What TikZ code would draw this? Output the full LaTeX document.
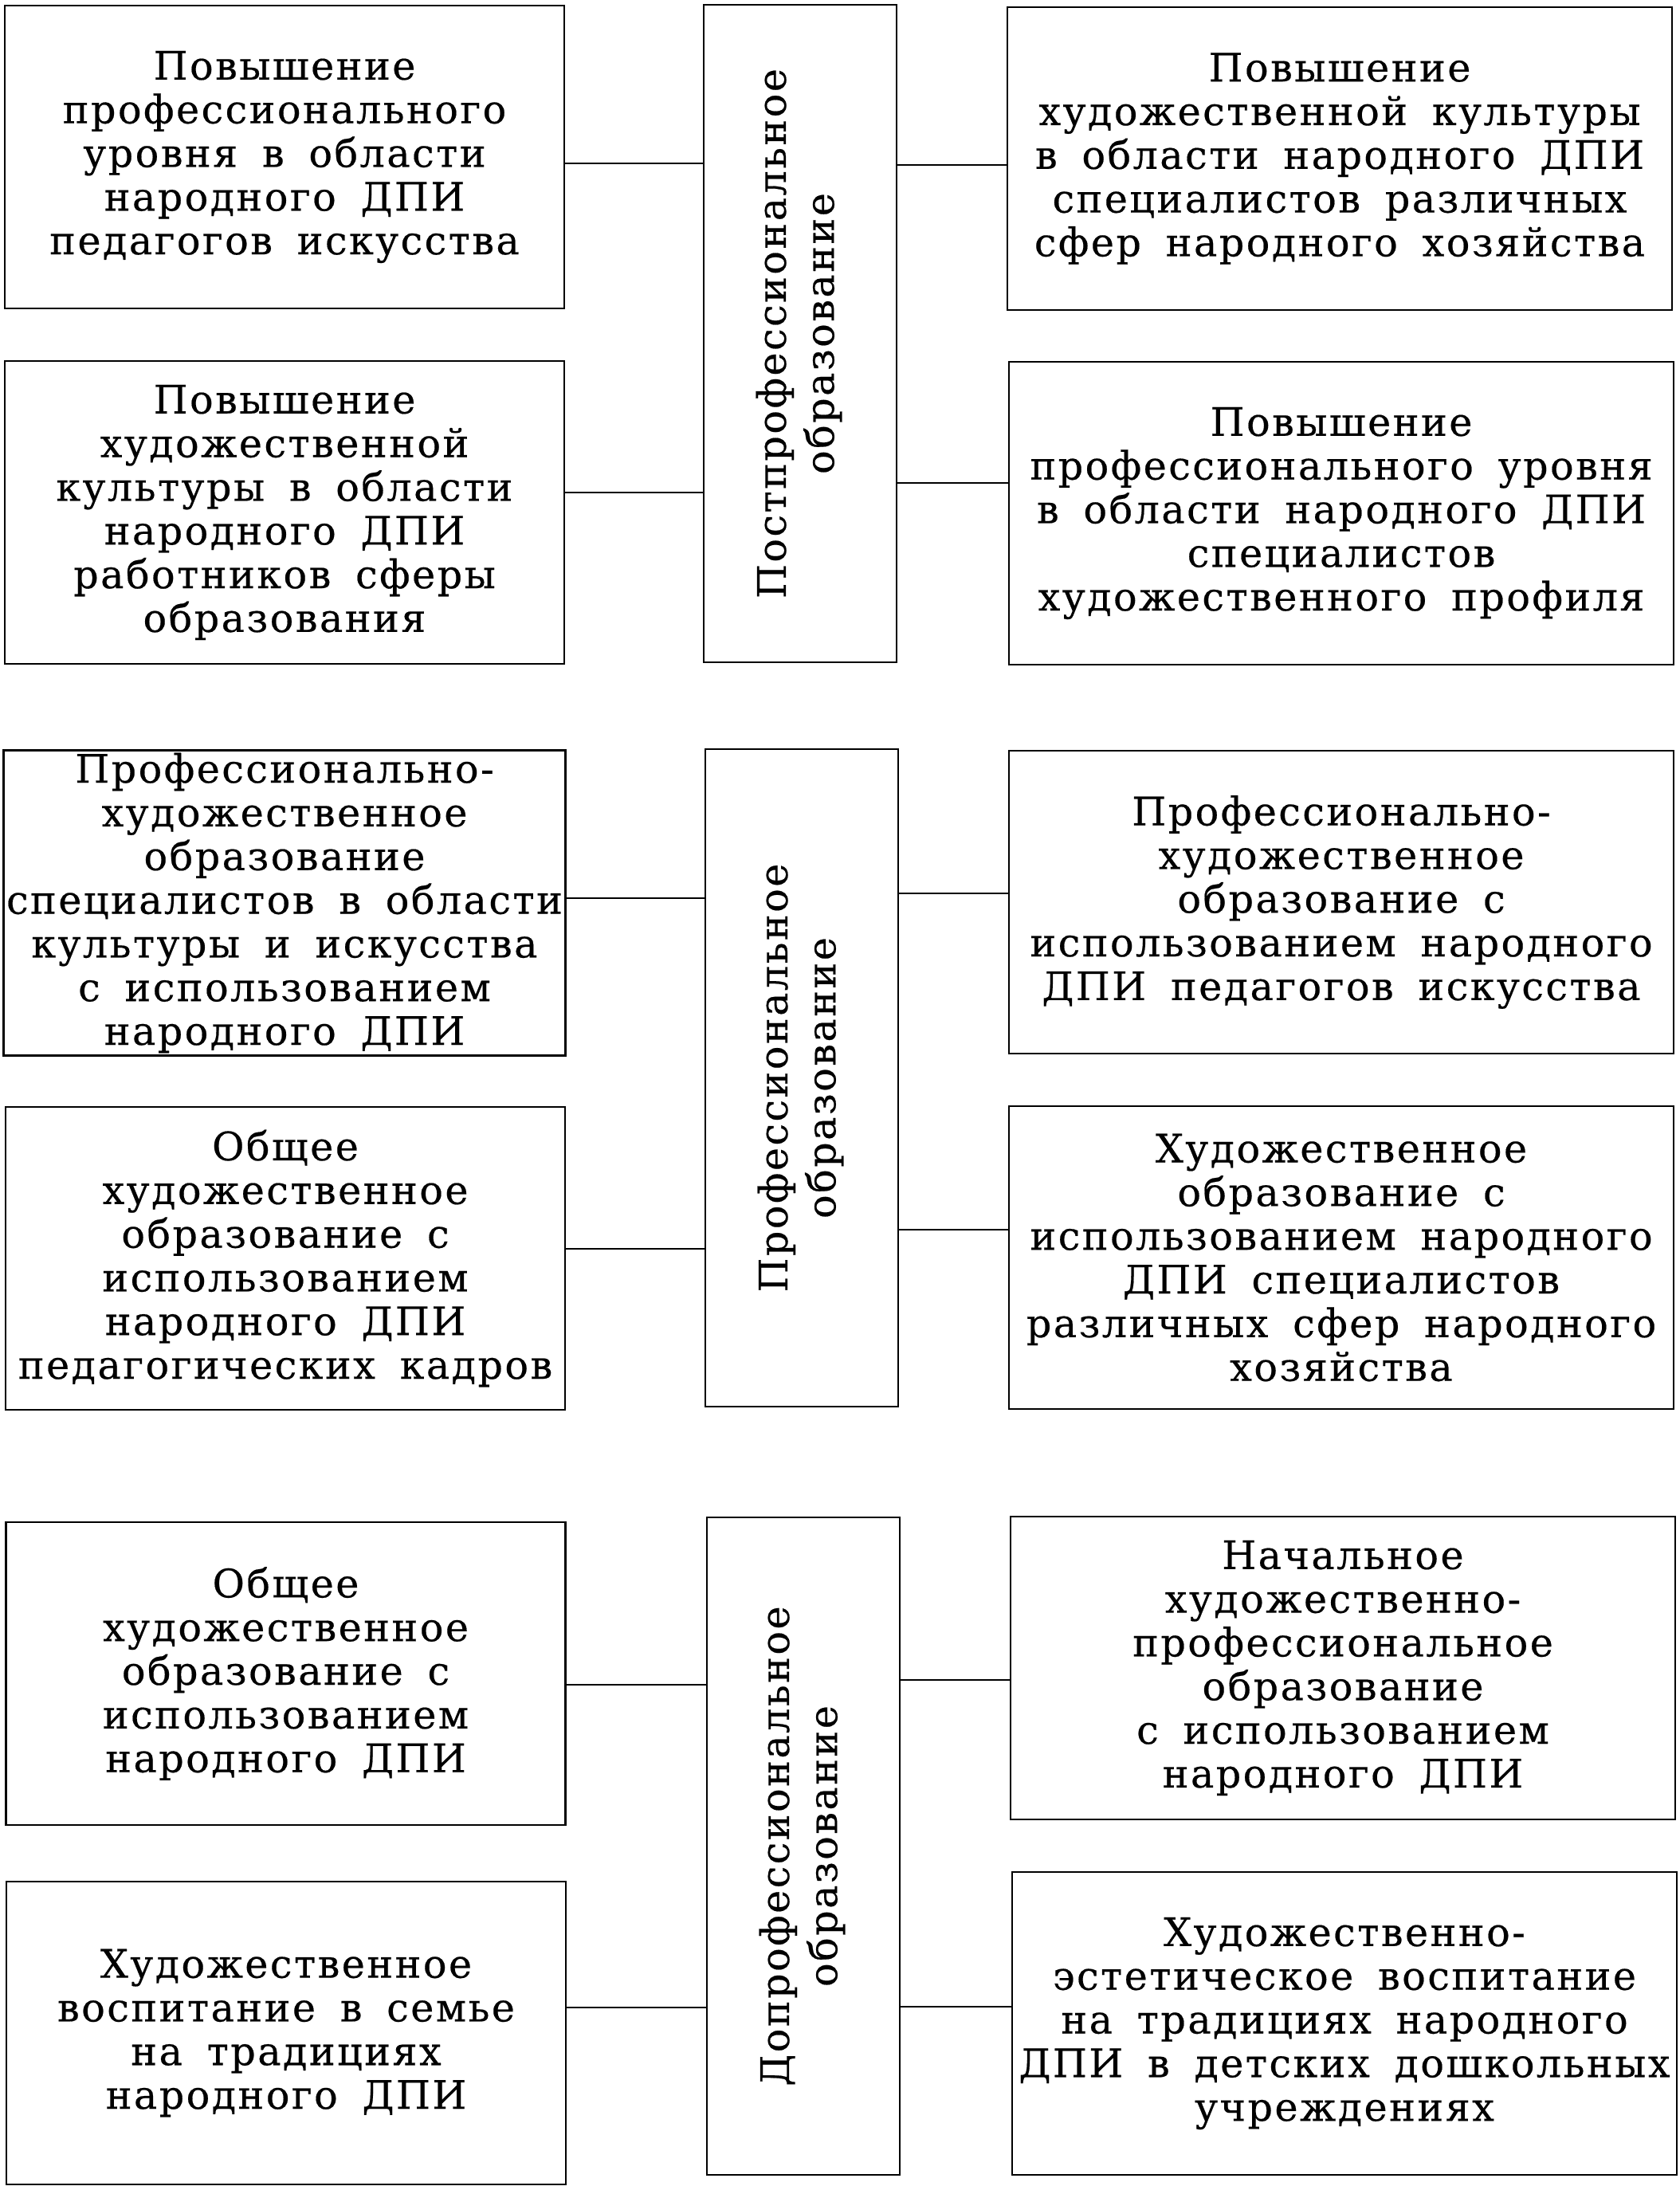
\documentclass[tikz,border=0pt]{standalone}
\usepackage{fontspec}
\setmainfont[LetterSpace=5,WordSpace=1.7,FakeBold=0.4]{DejaVu Serif}
\renewcommand{\arraystretch}{1.1}

\begin{document}
\begin{tikzpicture}[
  every node/.style={font=\fontsize{14}{15.6}\selectfont},
  sidebox/.style={draw,line width=0.8pt,align=center,inner sep=1pt,minimum height=3.8cm},
  leftbox/.style={sidebox,minimum width=7.02cm},
  rightbox/.style={sidebox,minimum width=8.34cm},
  levelbox/.style={draw,line width=0.8pt,minimum width=2.42cm,minimum height=8.25cm,inner sep=0pt},
  link/.style={line width=0.8pt}
]
\useasboundingbox (0,0) rectangle (21.08,-27.48);

\node[leftbox] (L1) at (3.57,-1.97) {Повышение\\профессионального\\уровня в области\\народного ДПИ\\педагогов искусства};
\node[leftbox] (L2) at (3.57,-6.43) {Повышение\\художественной\\культуры в области\\народного ДПИ\\работников сферы\\образования};
\node[levelbox] (C1) at (10.04,-4.185) {\rotatebox{90}{\begin{tabular}{@{}c@{}}Постпрофессиональное\\образование\end{tabular}}};
\node[rightbox] (R1) at (16.81,-1.99) {Повышение\\художественной культуры\\в области народного ДПИ\\специалистов различных\\сфер народного хозяйства};
\node[rightbox] (R2) at (16.83,-6.44) {Повышение\\профессионального уровня\\в области народного ДПИ\\специалистов\\художественного профиля};

\node[leftbox] (L3) at (3.57,-11.33) {Профессионально-\\художественное\\образование\\специалистов в области\\культуры и искусства\\с использованием\\народного ДПИ};
\node[leftbox] (L4) at (3.58,-15.79) {Общее\\художественное\\образование с\\использованием\\народного ДПИ\\педагогических кадров};
\node[levelbox] (C2) at (10.06,-13.525) {\rotatebox{90}{\begin{tabular}{@{}c@{}}Профессиональное\\образование\end{tabular}}};
\node[rightbox] (R3) at (16.83,-11.32) {Профессионально-\\художественное\\образование с\\использованием народного\\ДПИ педагогов искусства};
\node[rightbox] (R4) at (16.83,-15.78) {Художественное\\образование с\\использованием народного\\ДПИ специалистов\\различных сфер народного\\хозяйства};

\node[leftbox] (L5) at (3.585,-21.0) {Общее\\художественное\\образование с\\использованием\\народного ДПИ};
\node[leftbox] (L6) at (3.59,-25.51) {Художественное\\воспитание в семье\\на традициях\\народного ДПИ};
\node[levelbox] (C3) at (10.08,-23.165) {\rotatebox{90}{\begin{tabular}{@{}c@{}}Допрофессиональное\\образование\end{tabular}}};
\node[rightbox] (R5) at (16.85,-20.93) {Начальное\\художественно-\\профессиональное\\образование\\с использованием\\народного ДПИ};
\node[rightbox] (R6) at (16.87,-25.39) {Художественно-\\эстетическое воспитание\\на традициях народного\\ДПИ в детских дошкольных\\учреждениях};

\foreach \s/\c/\y in {L1/C1/2.05, L2/C1/6.18, L3/C2/11.27, L4/C2/15.67, L5/C3/21.14, L6/C3/25.19}
  \draw[link] (\s.east |- 0,-\y) -- (\c.west |- 0,-\y);
\foreach \c/\s/\y in {C1/R1/2.07, C1/R2/6.06, C2/R3/11.21, C2/R4/15.43, C3/R5/21.08, C3/R6/25.18}
  \draw[link] (\c.east |- 0,-\y) -- (\s.west |- 0,-\y);

\end{tikzpicture}
\end{document}
